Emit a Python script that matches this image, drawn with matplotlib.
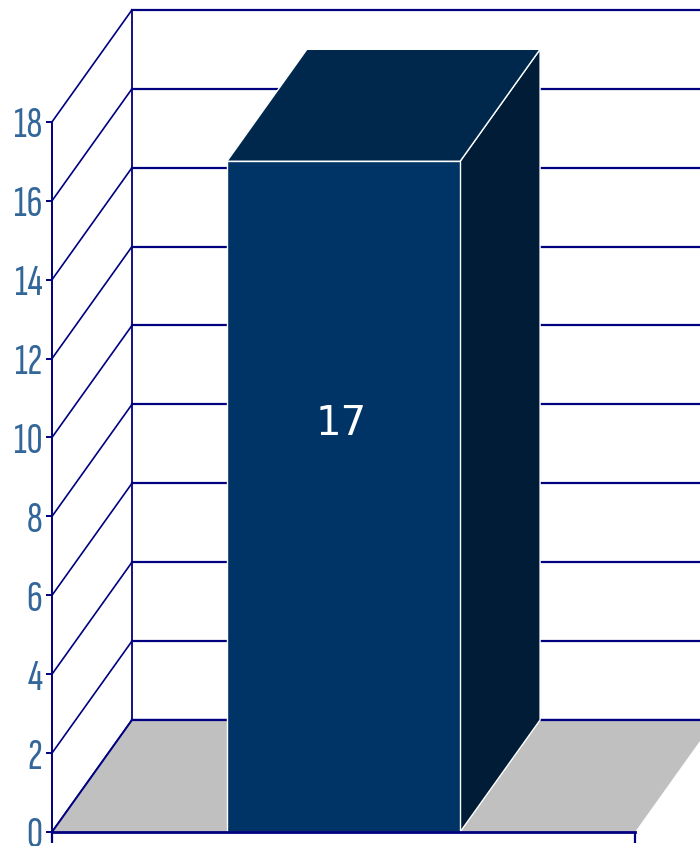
import matplotlib
matplotlib.use("Agg")
import matplotlib.pyplot as plt
from matplotlib.patches import Polygon

# ---- data ----
categories = ["Série 1"]
values = [17]
y_ticks = [0, 2, 4, 6, 8, 10, 12, 14, 16, 18]
y_max = 18

# ---- style / layout ----
NAVY = "#000080"
LABEL = "#336699"
FRONT = "#003366"
TOP = "#00284d"
SIDE = "#001c36"
FLOOR = "#c0c0c0"
DX, DY = 0.1372, 2.84          # depth offset (x units, value units)
BAR_W = 0.4

fig = plt.figure(figsize=(7.0, 8.46), dpi=100)
ax = fig.add_axes([0, 0, 1, 1])
ax.set_xlim(-0.5892, 0.6115)
ax.set_ylim(-0.355, 21.09)
ax.set_facecolor("white")

x0, x1 = -0.5, 0.5  # category extent (front)

# back wall grid lines
for v in y_ticks:
    ax.plot([x0 + DX, x1 + DX + 0.2], [v + DY, v + DY], color=NAVY, lw=1.6, zorder=1)
# back wall left vertical edge
ax.plot([x0 + DX, x0 + DX], [DY, y_max + DY], color=NAVY, lw=1.3, zorder=1)
# side wall diagonals
for v in y_ticks:
    ax.plot([x0, x0 + DX], [v, v + DY], color=NAVY, lw=1.2, zorder=1)

# floor
ax.add_patch(Polygon([(x0, 0), (x1, 0), (x1 + DX, DY), (x0 + DX, DY)],
                     closed=True, facecolor=FLOOR, edgecolor="none", zorder=1.1))
ax.plot([x0, x0 + DX], [0, DY], color=NAVY, lw=1.4, zorder=1.2)
ax.plot([x0 + DX, x1 + DX + 0.2], [DY, DY], color=NAVY, lw=1.6, zorder=1.2)

# bars (3D)
for i, (cat, val) in enumerate(zip(categories, values)):
    xc = i
    l, r = xc - BAR_W / 2, xc + BAR_W / 2
    front = [(l, 0), (r, 0), (r, val), (l, val)]
    top = [(l, val), (r, val), (r + DX, val + DY), (l + DX, val + DY)]
    side = [(r, 0), (r + DX, DY), (r + DX, val + DY), (r, val)]
    for pts, col in ((side, SIDE), (top, TOP), (front, FRONT)):
        ax.add_patch(Polygon(pts, closed=True, facecolor=col, edgecolor="white",
                             lw=1.0, joinstyle="miter", zorder=2))
    ax.text(xc - 0.004, val * 0.609, str(val), color="white", fontsize=29,
            family="DejaVu Sans", ha="center", va="center", zorder=3)

# axes (front)
for s in ("top", "right"):
    ax.spines[s].set_visible(False)
ax.spines["left"].set_position(("data", x0))
ax.spines["left"].set_bounds(0, y_max)
ax.spines["left"].set_color(NAVY)
ax.spines["left"].set_linewidth(1.4)
ax.spines["bottom"].set_position(("data", 0))
ax.spines["bottom"].set_bounds(x0, x1)
ax.spines["bottom"].set_color(NAVY)
ax.spines["bottom"].set_linewidth(2.0)
ax.spines["left"].set_zorder(4)
ax.spines["bottom"].set_zorder(4)

ax.set_yticks(y_ticks)
ax.set_yticklabels([str(t) for t in y_ticks])
ax.tick_params(axis="y", direction="out", length=4, width=1.4, color=NAVY,
               labelcolor=LABEL, labelsize=32, pad=3)
for lab in ax.get_yticklabels():
    lab.set_family(["Sofia Sans Extra Condensed", "Fira Sans Extra Condensed", "DejaVu Sans"])
ax.set_xticks([x0, x1])
ax.set_xticklabels([])
ax.tick_params(axis="x", direction="out", length=8, width=1.6, color=NAVY)

fig.savefig("out.png", dpi=100)
